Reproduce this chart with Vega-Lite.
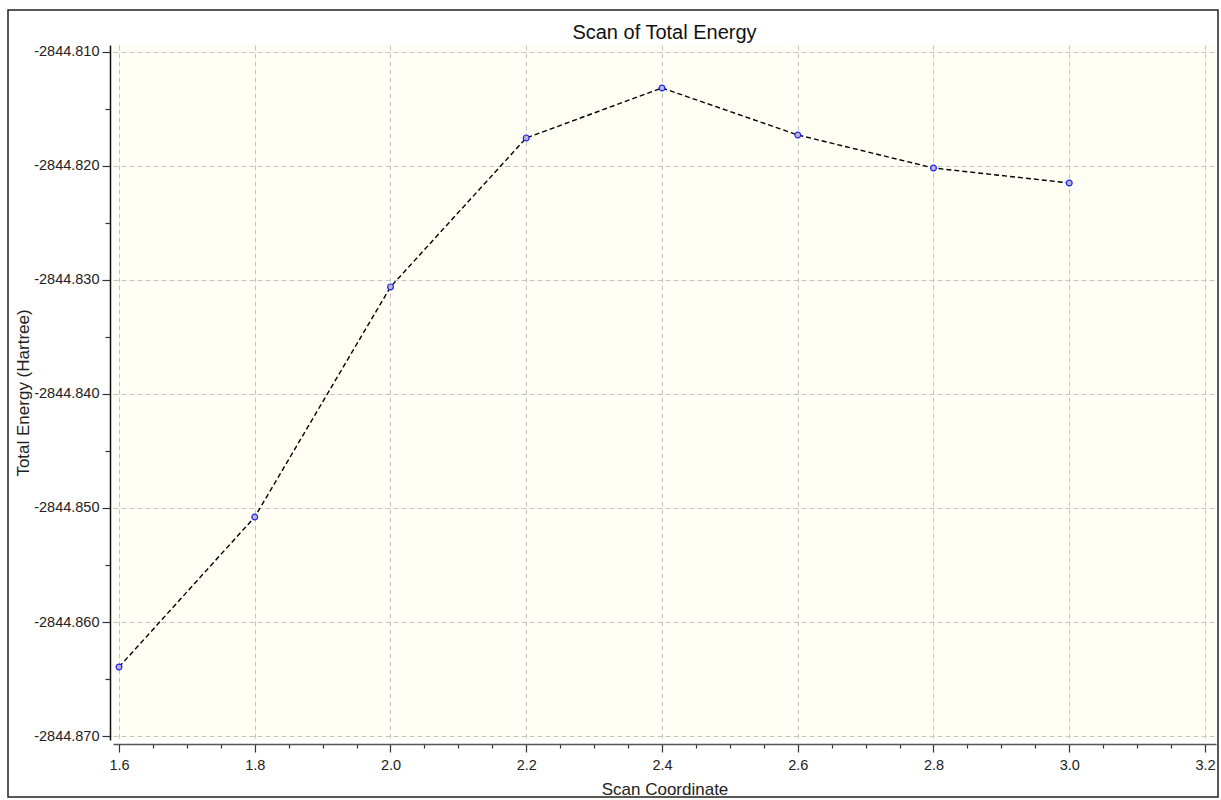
{
  "$schema": "https://vega.github.io/schema/vega-lite/v6.json",
  "width": 1103,
  "height": 695,
  "autosize": {"type": "none"},
  "padding": {"left": 113, "top": 45, "right": 5, "bottom": 60},
  "background": "white",
  "title": {"text": "Scan of Total Energy", "fontSize": 20, "font": "Liberation Sans", "fontWeight": "normal", "color": "#111111", "anchor": "middle", "offset": -34},
  "config": {"view": {"fill": "#fefef4", "stroke": null}, "font": "Liberation Sans"},
  "data": {"values": [
    {"coord": 1.6, "energy": -2844.86395},
    {"coord": 1.8, "energy": -2844.85079},
    {"coord": 2.0, "energy": -2844.83061},
    {"coord": 2.2, "energy": -2844.81754},
    {"coord": 2.4, "energy": -2844.81316},
    {"coord": 2.6, "energy": -2844.81728},
    {"coord": 2.8, "energy": -2844.82018},
    {"coord": 3.0, "energy": -2844.82149}
  ]},
  "encoding": {
    "x": {
      "field": "coord", "type": "quantitative",
      "scale": {"domain": [1.59116, 3.21621], "nice": false, "zero": false},
      "axis": {
        "title": "Scan Coordinate",
        "values": [1.6,1.65,1.7,1.75,1.8,1.85,1.9,1.95,2.0,2.05,2.1,2.15,2.2,2.25,2.3,2.35,2.4,2.45,2.5,2.55,2.6,2.65,2.7,2.75,2.8,2.85,2.9,2.95,3.0,3.05,3.1,3.15,3.2],
        "labelExpr": "round(datum.value*100) % 20 == 0 ? format(datum.value, '.1f') : ''",
        "labelOverlap": false,
        "labelFlush": false,
        "labelFontSize": 14.5,
        "labelColor": "#222222",
        "labelPadding": 6,
        "titleFontSize": 17,
        "titleFontWeight": "normal",
        "titleColor": "#222222",
        "titlePadding": 10,
        "offset": 4,
        "domainColor": "#555555",
        "domainWidth": 1.5,
        "tickColor": "#333333",
        "tickWidth": 1.2,
        "tickSize": {"condition": {"test": "round(datum.value*100) % 20 == 0", "value": 8}, "value": 4},
        "grid": true,
        "gridColor": "#c4c4c4",
        "gridDash": [5, 3],
        "gridWidth": 1,
        "gridOpacity": {"condition": {"test": "round(datum.value*100) % 20 == 0", "value": 1}, "value": 0}
      }
    },
    "y": {
      "field": "energy", "type": "quantitative",
      "scale": {"domain": [-2844.87035, -2844.80939], "nice": false, "zero": false},
      "axis": {
        "title": "Total Energy (Hartree)",
        "values": [-2844.87,-2844.865,-2844.86,-2844.855,-2844.85,-2844.845,-2844.84,-2844.835,-2844.83,-2844.825,-2844.82,-2844.815,-2844.81],
        "labelExpr": "round(datum.value*1000) % 10 == 0 ? replace(format(datum.value, '.3f'), '\u2212', '-') : ''",
        "labelOverlap": false,
        "labelFlush": false,
        "labelFontSize": 14.5,
        "labelColor": "#222222",
        "labelPadding": 3,
        "titleFontSize": 17,
        "titleFontWeight": "normal",
        "titleColor": "#222222",
        "titlePadding": 1,
        "offset": 3,
        "domainColor": "#111111",
        "domainWidth": 1.5,
        "tickColor": "#333333",
        "tickWidth": 1.2,
        "tickSize": {"condition": {"test": "round(datum.value*1000) % 10 == 0", "value": 8}, "value": 5},
        "grid": true,
        "gridColor": "#c4c4c4",
        "gridDash": [5, 3],
        "gridWidth": 1,
        "gridOpacity": {"condition": {"test": "round(datum.value*1000) % 10 == 0", "value": 1}, "value": 0}
      }
    }
  },
  "layer": [
    {
      "transform": [{"filter": "datum.coord == 1.6"}],
      "mark": {"type": "rect", "fill": "transparent", "stroke": "#222222", "strokeWidth": 1.5, "clip": false},
      "encoding": {
        "x": {"datum": 1.43646, "type": "quantitative"},
        "x2": {"datum": 3.21915},
        "y": {"datum": -2844.806316, "type": "quantitative"},
        "y2": {"datum": -2844.875351}
      }
    },
    {
      "mark": {"type": "line", "color": "#000000", "strokeDash": [5, 3], "strokeWidth": 1.4}
    },
    {
      "mark": {"type": "circle", "fill": "#b8b8c8", "stroke": "#2020ff", "strokeWidth": 1.2, "size": 34, "opacity": 1}
    }
  ]
}
